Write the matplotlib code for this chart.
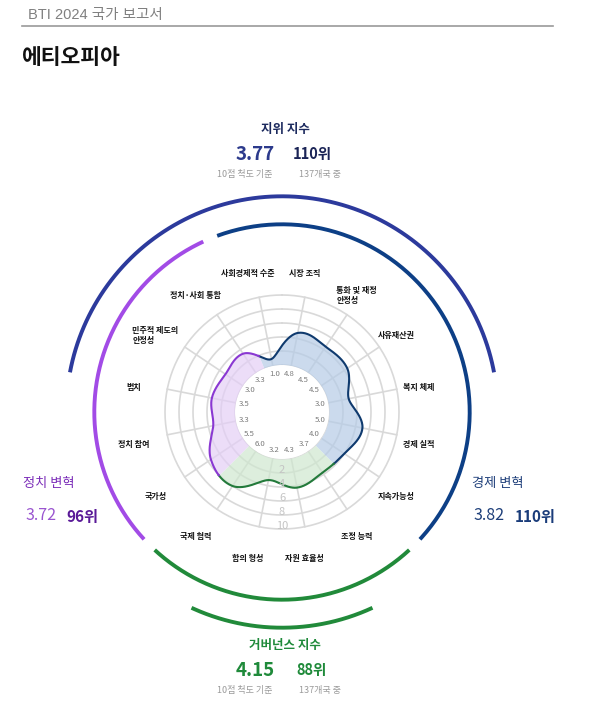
import numpy as np
import matplotlib.pyplot as plt
import matplotlib.transforms as mtransforms
from matplotlib.lines import Line2D

plt.rcParams['font.family'] = ['Noto Sans CJK KR', 'DejaVu Sans']

# BTI criteria, clockwise starting just left of the top
criteria = ['사회경제적 수준', '시장 조직', '통화 및 재정\n안정성', '사유재산권', '복지 체제',
            '경제 실적', '지속가능성', '조정 능력', '자원 효율성', '합의 형성', '국제 협력',
            '국가성', '정치 참여', '법치', '민주적 제도의\n안정성', '정치·사회 통합']
scores = [1.0, 4.8, 4.5, 4.5, 3.0, 5.0, 4.0, 3.7, 4.3, 3.2, 6.0, 5.5, 3.3, 3.5, 3.0, 3.3]
group_of = ['econ'] * 7 + ['gov'] * 4 + ['pol'] * 5
scale_ticks = [2, 4, 6, 8, 10]

status_score, status_rank = 3.77, 110
econ_score, econ_rank = 3.82, 110
pol_score, pol_rank = 3.72, 96
gov_score, gov_rank = 4.15, 88
n_countries = 137

line_col = {'econ': '#0f3a6e', 'gov': '#237a3b', 'pol': '#8a38d2'}
fill_col = {'econ': '#b5cbe6', 'gov': '#cfe7cf', 'pol': '#e4cff6'}
arc_col = {'econ': '#0d3f86', 'gov': '#218a3a', 'pol': '#a24be6', 'status': '#2c3a9c'}

W, H = 600, 715
n = len(scores)
step = 360 / n
theta0 = -step / 2
angles = theta0 + step * np.arange(n)


def curve_at(th):
    # closed Catmull-Rom curve through the scores
    u = ((np.asarray(th) - theta0) % 360) / step
    i = np.floor(u).astype(int)
    t = u - i
    v = np.array(scores)
    p0, p1, p2, p3 = v[(i - 1) % n], v[i % n], v[(i + 1) % n], v[(i + 2) % n]
    return 0.5 * (2 * p1 + (p2 - p0) * t + (2 * p0 - 5 * p1 + 4 * p2 - p3) * t ** 2
                  + (3 * p1 - p0 - 3 * p2 + p3) * t ** 3)


fig = plt.figure(figsize=(6, 7.15), dpi=100)

cx, cy, R = 282, 412, 222
ax = fig.add_axes([(cx - R) / W, (H - cy - R) / H, 2 * R / W, 2 * R / H], projection='polar')
ax.set_theta_zero_location('N')
ax.set_theta_direction(-1)
ax.set_ylim(0, 25)
ax.set_rorigin(-47 / 7)
ax.axis('off')

full = np.radians(np.linspace(0, 360, 361))
for v in [0] + scale_ticks:
    ax.plot(full, np.full_like(full, v), color='#d9d9d9', lw=1.2, zorder=1)
for a in angles:
    ax.plot([np.radians(a)] * 2, [0, 10], color='#d9d9d9', lw=1.2, zorder=1)

# sector ranges (degrees clockwise from top)
sectors = {}
for g in ['econ', 'gov', 'pol']:
    idx = [k for k, gg in enumerate(group_of) if gg == g]
    sectors[g] = (angles[idx[0]] - step / 2, angles[idx[-1]] + step / 2)

for g, (lo, hi) in sectors.items():
    th = np.linspace(lo, hi, 300)
    r = curve_at(th)
    ax.fill_between(np.radians(th), 0, r, color=fill_col[g], alpha=0.7, lw=0, zorder=2)
    ax.plot(np.radians(th), r, color=line_col[g], lw=1.5, zorder=4)
    # group arc
    arc = np.radians(np.linspace(lo + 2.3, hi - 2.3, 200))
    ax.plot(arc, np.full_like(arc, 20.1), color=arc_col[g], lw=2.8,
            solid_capstyle='butt', zorder=3)

# status index arc (top) and governance index arc (bottom)
arc = np.radians(np.linspace(-79.4, 79.4, 300))
ax.plot(arc, np.full_like(arc, 24.1), color=arc_col['status'], lw=2.8, solid_capstyle='butt')
arc = np.radians(np.linspace(155.2, 204.8, 200))
ax.plot(arc, np.full_like(arc, 24.1), color=arc_col['gov'], lw=2.8, solid_capstyle='butt')

label_tr = mtransforms.offset_copy(ax.transData, fig=fig, x=-6, y=-4, units='dots')
for a, s, lab in zip(angles, scores, criteria):
    ax.text(np.radians(a), -1.15, f'{s:.1f}', ha='center', va='center',
            fontsize=5.6, color='#7a7a7a', zorder=5)
    ax.text(np.radians(a), 14.0, lab, ha='center', va='center', fontsize=5.8,
            fontweight='bold', color='#111111', multialignment='left', zorder=5,
            transform=label_tr)

for v in scale_ticks:
    ax.text(np.pi, v - 0.45, str(v), ha='center', va='center', fontsize=8,
            color='#c4c4c4', zorder=5)


def fx(x):
    return x / W


def fy(y):
    return 1 - y / H


# header
fig.text(fx(28), fy(15), 'BTI 2024 국가 보고서', fontsize=10.5, color='#808080', va='center',
         family=['Liberation Sans', 'Noto Sans CJK KR'])
fig.add_artist(Line2D([fx(22), fx(553)], [fy(26), fy(26)], color='#9a9a9a', lw=1.2))
fig.text(fx(22), fy(57), '에티오피아', fontsize=15.5, fontweight='bold', color='#111111', va='center')


def index_block(y0, title, score, rank, title_col, score_col, rank_col):
    fig.text(fx(285), fy(y0), title, fontsize=9, fontweight='bold', color=title_col,
             ha='center', va='center')
    fig.text(fx(255), fy(y0 + 25), f'{score:.2f}', fontsize=13.5, fontweight='bold',
             color=score_col, ha='center', va='center')
    fig.text(fx(312), fy(y0 + 25), f'{rank}위', fontsize=10.5, fontweight='bold',
             color=rank_col, ha='center', va='center')
    fig.text(fx(245), fy(y0 + 45), '10점 척도 기준', fontsize=6.5, color='#9a9a9a',
             ha='center', va='center')
    fig.text(fx(320), fy(y0 + 45), f'{n_countries}개국 중', fontsize=6.5, color='#9a9a9a',
             ha='center', va='center')


index_block(129, '지위 지수', status_score, status_rank, '#1c2a5e', '#2c3a8c', '#1a2456')
index_block(645, '거버넌스 지수', gov_score, gov_rank, '#1f8a3a', '#1f8a3a', '#1f8a3a')


def side_block(x0, title, score, rank, title_col, score_col, rank_col):
    fig.text(fx(x0), fy(484), title, fontsize=9.5, fontweight='medium', color=title_col,
             va='center')
    fig.text(fx(x0 + 2), fy(516), f'{score:.2f}', fontsize=11.5, fontweight='medium',
             color=score_col, va='center')
    fig.text(fx(x0 + 43), fy(517), f'{rank}위', fontsize=11, fontweight='bold',
             color=rank_col, va='center')


side_block(23, '정치 변혁', pol_score, pol_rank, '#7a2bb8', '#9a55d0', '#5a1a98')
side_block(472, '경제 변혁', econ_score, econ_rank, '#1e3f7a', '#1e3f7a', '#1a3c7a')

fig.savefig('out.png', dpi=100)
